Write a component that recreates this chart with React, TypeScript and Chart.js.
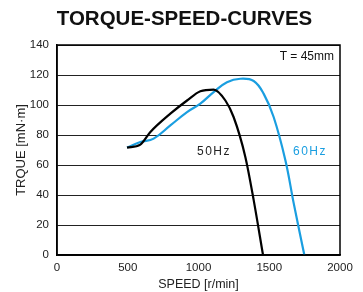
import React, { useEffect, useRef } from "react";
import { Chart, registerables } from "chart.js";

Chart.register(...registerables);

const speed50 = [495, 589, 660, 801, 919, 1013, 1107, 1190, 1248, 1331, 1390, 1456];
const torque50 = [71.6, 73.6, 82, 94.2, 103, 109.2, 110.3, 103, 92, 65.4, 36.6, 0];
const speed60 = [495, 589, 683, 801, 919, 1013, 1107, 1201, 1296, 1390, 1461, 1531, 1614, 1673, 1748];
const torque60 = [71.6, 75.3, 77.6, 86.4, 95.3, 100.9, 108.6, 115.2, 117.5, 116, 107.4, 92, 63.2, 34.4, 0];
const xTicks = [0, 500, 1000, 1500, 2000];
const yTicks = [0, 20, 40, 60, 80, 100, 120, 140];

const FONT = "'Liberation Sans', Arial, sans-serif";

export default function App() {
  const ref = useRef<HTMLCanvasElement>(null);
  useEffect(() => {
    document.body.style.margin = "0";
    const overlay = {
      id: "overlay",
      afterDraw(chart: any) {
        const { ctx, chartArea } = chart;
        ctx.save();
        ctx.strokeStyle = "#000";
        ctx.lineWidth = 1.5;
        ctx.strokeRect(chartArea.left, chartArea.top, chartArea.right - chartArea.left, chartArea.bottom - chartArea.top);
        ctx.fillStyle = "#111";
        ctx.font = `bold 20.5px ${FONT}`;
        ctx.textAlign = "center";
        ctx.textBaseline = "middle";
        ctx.fillText("TORQUE-SPEED-CURVES", 184.5, 19.5);
        ctx.font = `12px ${FONT}`;
        ctx.textAlign = "right";
        ctx.fillText("T = 45mm", chartArea.right - 6, chartArea.top + 12);
        ctx.textAlign = "left";
        ctx.font = `12px ${FONT}`;
        (ctx as any).letterSpacing = "1.5px";
        ctx.fillStyle = "#222";
        ctx.fillText("50Hz", 197, 152);
        ctx.fillStyle = "#1a9ee0";
        ctx.fillText("60Hz", 293, 152);
        ctx.restore();
      },
    };
    const chart = new Chart(ref.current!, {
      type: "line",
      data: {
        datasets: [
          {
            label: "50Hz",
            data: speed50.map((s, i) => ({ x: s, y: torque50[i] })),
            borderColor: "#000",
            borderWidth: 2.2,
            pointRadius: 0,
            tension: 0.4,
            cubicInterpolationMode: "monotone",
          },
          {
            label: "60Hz",
            data: speed60.map((s, i) => ({ x: s, y: torque60[i] })),
            borderColor: "#1a9ee0",
            borderWidth: 2.2,
            pointRadius: 0,
            tension: 0.4,
          },
        ],
      },
      options: {
        animation: false,
        responsive: false,
        layout: { padding: { top: 45, right: 23, left: 0, bottom: 0 } },
        plugins: {
          legend: { display: false },
          tooltip: { enabled: false },
          title: { display: false },
        },
        scales: {
          x: {
            type: "linear",
            min: 0,
            max: 2000,
            afterBuildTicks: (s: any) => { s.ticks = xTicks.map((v) => ({ value: v })); },
            grid: { display: false, drawTicks: false },
            border: { display: true, color: "#000", width: 1.5 },
            ticks: { color: "#222", font: { family: FONT, size: 11.5 }, padding: 6, maxRotation: 0, callback: (v: any) => String(v) },
            title: { display: true, text: "SPEED [r/min]", color: "#222", font: { family: FONT, size: 12.5 }, padding: { top: 1, bottom: 0 } },
            afterFit: (s: any) => { s.height = 37; },
          },
          y: {
            min: 0,
            max: 140,
            afterBuildTicks: (s: any) => { s.ticks = yTicks.map((v) => ({ value: v })); },
            grid: { color: "#222", lineWidth: 1, drawTicks: false },
            border: { display: true, color: "#000", width: 1.5 },
            ticks: { color: "#222", font: { family: FONT, size: 11.5 }, padding: 8 },
            title: { display: true, text: "TRQUE [mN·m]", color: "#222", font: { family: FONT, size: 13 }, padding: { top: 14, bottom: 0 } },
            afterFit: (s: any) => { s.width = 57; },
          },
        },
      },
      plugins: [overlay],
    });
    return () => chart.destroy();
  }, []);
  return (
    <div style={{ position: "fixed", left: 0, top: 0, width: 363, height: 292 }}>
      <canvas ref={ref} width={363} height={292} style={{ width: 363, height: 292 }} />
    </div>
  );
}
